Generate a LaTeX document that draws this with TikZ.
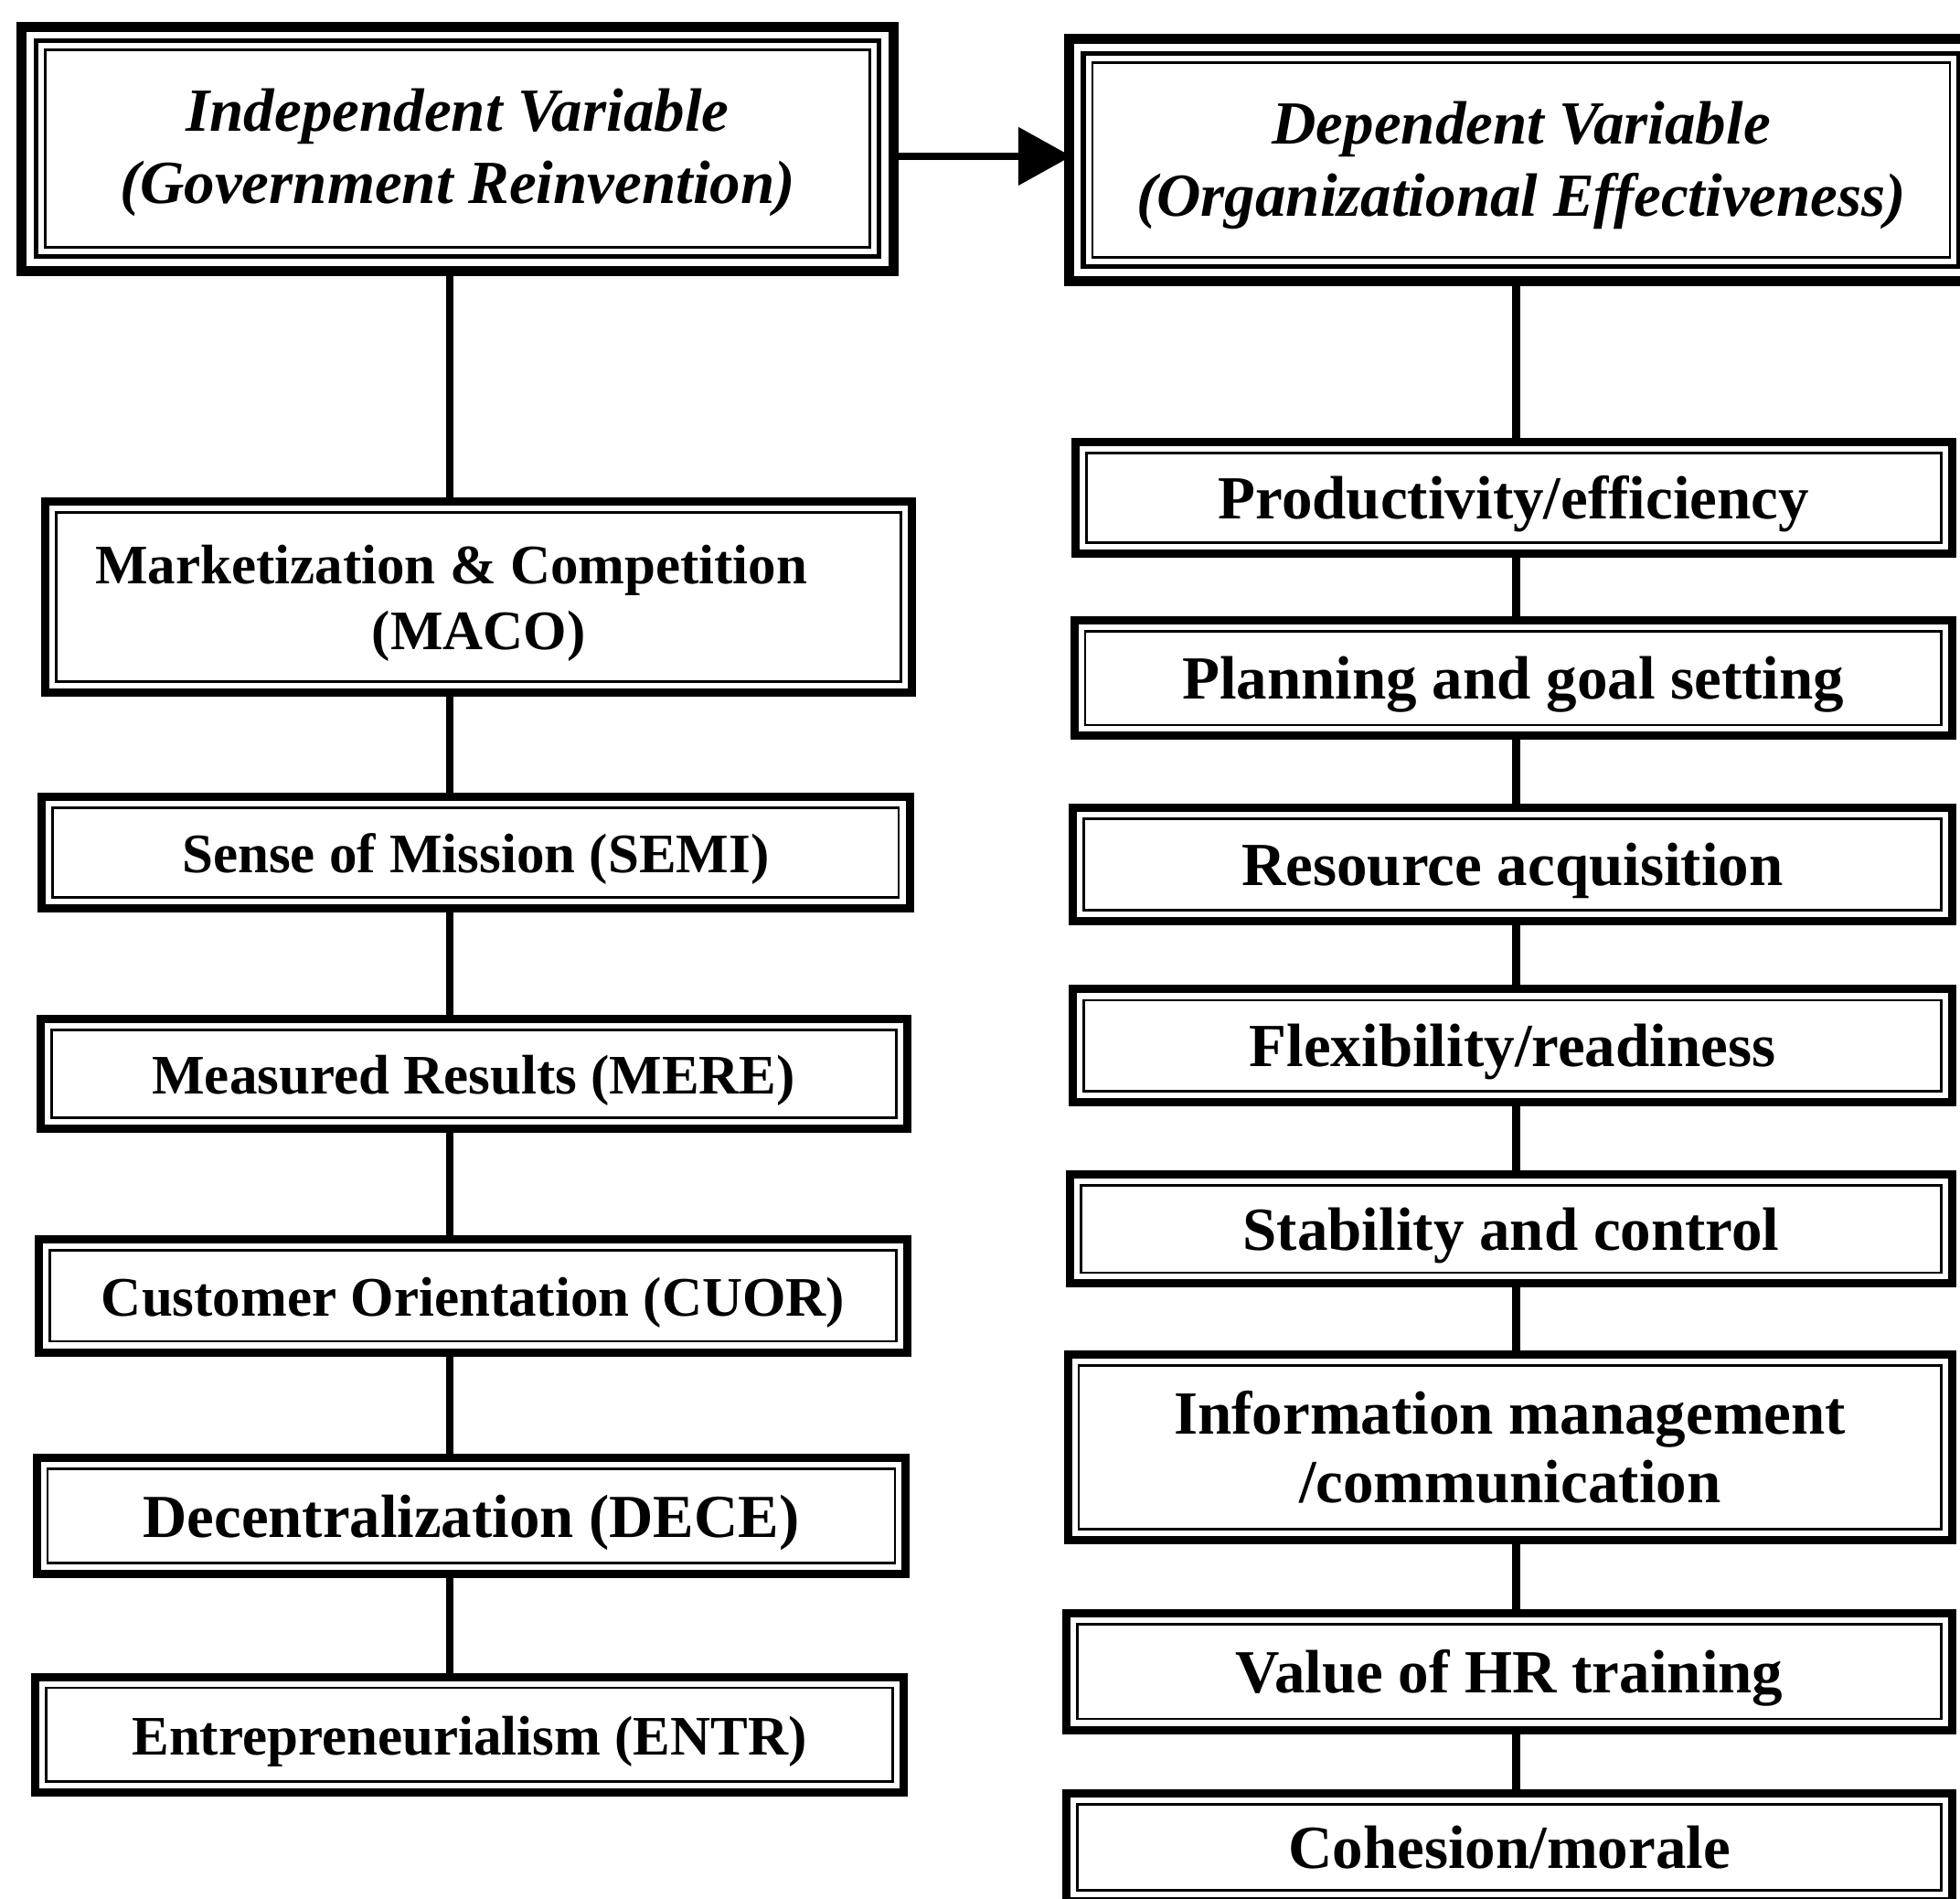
\documentclass[tikz,border=0pt]{standalone}
\usepackage{fontspec}
\setmainfont{Liberation Serif}
\usetikzlibrary{arrows.meta}
\newcommand{\downtext}[2][4pt]{\raisebox{-#1}[\height][\depth]{\begin{tabular}{@{}c@{}}#2\end{tabular}}}
\begin{document}
\begin{tikzpicture}[x=0.6837pt,y=-0.6837pt,
  boxbase/.style={draw, line width=4.5pt, inner sep=0pt, align=center},
  leftbox/.style={boxbase, font=\fontsize{30.5}{36}\selectfont\bfseries,
    path picture={\draw[line width=1.4pt] ([shift={(6pt,-6pt)}]path picture bounding box.north west) rectangle ([shift={(-6pt,6pt)}]path picture bounding box.south east);}},
  rightbox/.style={boxbase, font=\fontsize{33.5}{37.6}\selectfont\bfseries,
    path picture={\draw[line width=1.4pt] ([shift={(6pt,-6pt)}]path picture bounding box.north west) rectangle ([shift={(-6pt,6pt)}]path picture bounding box.south east);}},
  topbox/.style={boxbase, line width=5.5pt, font=\fontsize{33.5}{39.5}\selectfont\bfseries\itshape,
    path picture={\draw[line width=2.6pt] ([shift={(7.8pt,-7.8pt)}]path picture bounding box.north west) rectangle ([shift={(-7.8pt,7.8pt)}]path picture bounding box.south east);
      \draw[line width=1.3pt] ([shift={(12.8pt,-12.8pt)}]path picture bounding box.north west) rectangle ([shift={(-12.8pt,12.8pt)}]path picture bounding box.south east);}},
  conn/.style={line width=4.2pt},
  bigarrow/.style={line width=4pt, shorten >=-4pt, -{Triangle[length=29pt,width=31pt]}}]
\clip (0,0) rectangle (1568,1519);
\fill[white] (0,0) rectangle (1568,1519);
% top boxes
\node[topbox, minimum width=476.8pt, minimum height=133.6pt] (L0) at (366,119) {\downtext[2pt]{Independent Variable\\(Government Reinvention)}};
\node[topbox, minimum width=494.6pt, minimum height=132.2pt] (R0) at (1217,128) {\downtext[3pt]{Dependent Variable\\(Organizational Effectiveness)}};
% left column
\node[leftbox, minimum width=474.1pt, minimum height=104.2pt] (L1) at (383,477.5) {\downtext[3.5pt]{Marketization \& Competition\hspace*{30pt}\\(MACO)}};
\node[leftbox, minimum width=474.8pt, minimum height=61.1pt] (L2) at (380.5,682) {\downtext{Sense of Mission (SEMI)}};
\node[leftbox, minimum width=474.1pt, minimum height=59.8pt] (L3) at (379,859) {\downtext{Measured Results (MERE)}};
\node[leftbox, minimum width=474.8pt, minimum height=61.8pt] (L4) at (378.5,1036.5) {\downtext{Customer Orientation (CUOR)}};
\node[leftbox, font=\fontsize{33.4}{38}\selectfont\bfseries, minimum width=475.5pt, minimum height=63.2pt] (L5) at (377,1212.5) {\downtext{Decentralization (DECE)}};
\node[leftbox, minimum width=474.8pt, minimum height=63.2pt] (L6) at (375.5,1387.5) {\downtext{Entrepreneurialism (ENTR)}};
% right column
\node[rightbox, minimum width=479.6pt, minimum height=61.1pt] (R1) at (1211,398) {\downtext{Productivity/efficiency}};
\node[rightbox, minimum width=480.2pt, minimum height=63.2pt] (R2) at (1210.5,542.5) {\downtext{Planning and goal setting}};
\node[rightbox, minimum width=480.9pt, minimum height=61.8pt] (R3) at (1210,691.5) {\downtext{Resource acquisition}};
\node[rightbox, minimum width=480.9pt, minimum height=61.8pt] (R4) at (1210,836.5) {\downtext{Flexibility/readiness}};
\node[rightbox, minimum width=482.3pt, minimum height=59.8pt] (R5) at (1209,983) {\downtext{Stability and control}};
\node[rightbox, minimum width=483.7pt, minimum height=101.5pt] (R6) at (1208,1157.5) {\downtext{Information management\\/communication}};
\node[rightbox, minimum width=484.3pt, minimum height=63.9pt] (R7) at (1207.5,1337) {\downtext{Value of HR training}};
\node[rightbox, minimum width=484.3pt, minimum height=59.1pt] (R8) at (1207.5,1477.5) {\downtext{Cohesion/morale}};
% helper coordinates
\coordinate (lc) at (360,0);
\coordinate (rc) at (1213,0);
\coordinate (ay) at (0,125);
% connectors
\draw[bigarrow] (L0.east |- ay) -- (R0.west |- ay);
\draw[conn] (L0.south -| lc) -- (L1.north -| lc);
\draw[conn] (L1.south -| lc) -- (L2.north -| lc);
\draw[conn] (L2.south -| lc) -- (L3.north -| lc);
\draw[conn] (L3.south -| lc) -- (L4.north -| lc);
\draw[conn] (L4.south -| lc) -- (L5.north -| lc);
\draw[conn] (L5.south -| lc) -- (L6.north -| lc);
\draw[conn] (R0.south -| rc) -- (R1.north -| rc);
\draw[conn] (R1.south -| rc) -- (R2.north -| rc);
\draw[conn] (R2.south -| rc) -- (R3.north -| rc);
\draw[conn] (R3.south -| rc) -- (R4.north -| rc);
\draw[conn] (R4.south -| rc) -- (R5.north -| rc);
\draw[conn] (R5.south -| rc) -- (R6.north -| rc);
\draw[conn] (R6.south -| rc) -- (R7.north -| rc);
\draw[conn] (R7.south -| rc) -- (R8.north -| rc);
\end{tikzpicture}
\end{document}
